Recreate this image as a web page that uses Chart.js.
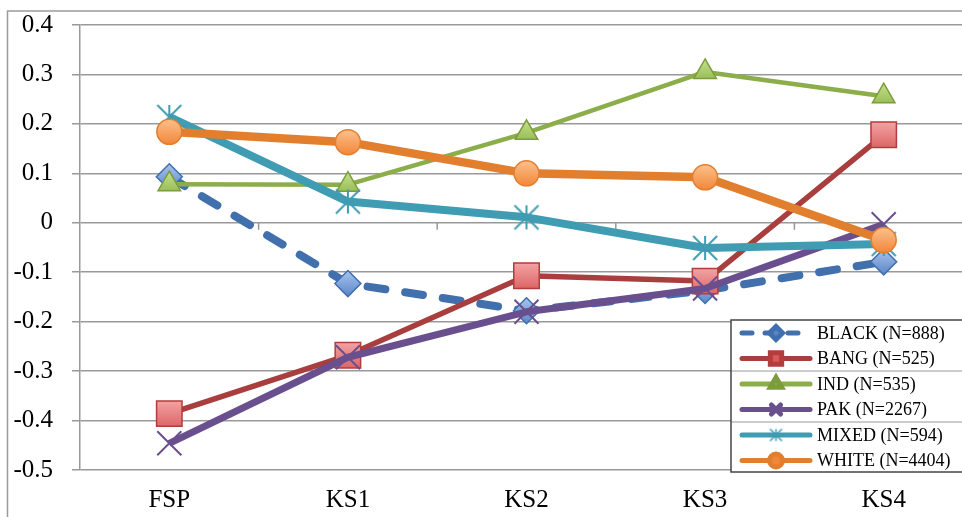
<!DOCTYPE html>
<html>
<head>
<meta charset="utf-8">
<script src="https://cdn.jsdelivr.net/npm/chart.js@4.4.1/dist/chart.umd.min.js"></script>
<style>
  html, body { margin: 0; padding: 0; background: #fff; overflow: hidden; }
  #wrap { position: relative; width: 1000px; height: 517px; }
</style>
</head>
<body>
<div id="wrap"><canvas id="chart" width="1000" height="517"></canvas></div>
<script>
// ── Data ──────────────────────────────────────────────────────────────────────
const STAGES = ['FSP', 'KS1', 'KS2', 'KS3', 'KS4'];
const BLACK  = [0.093, -0.123, -0.178, -0.137, -0.079];
const BANG   = [-0.386, -0.268, -0.107, -0.118, 0.178];
const IND    = [0.078, 0.077, 0.182, 0.305, 0.256];
const PAK    = [-0.446, -0.272, -0.180, -0.133, -0.003];
const MIXED  = [0.214, 0.043, 0.011, -0.051, -0.043];
const WHITE  = [0.184, 0.163, 0.100, 0.092, -0.035];
const GROUPS = ['BLACK', 'BANG', 'IND', 'PAK', 'MIXED', 'WHITE'];
const SIZES  = [888, 525, 535, 2267, 594, 4404];
const Y_MIN = -0.5, Y_MAX = 0.4, Y_STEP = 0.1;

const SERIF = '"Liberation Serif", "DejaVu Serif", serif';
const GRID  = '#999999';

// asterisk marker: an X plus a vertical bar, no horizontal arm
function asterisk(half, color, lw) {
  const cv = document.createElement('canvas');
  const n = Math.ceil(half * 2 + lw * 2);
  cv.width = cv.height = n;
  const c = cv.getContext('2d'), m = n / 2;
  c.strokeStyle = color;
  c.lineWidth = lw;
  c.beginPath();
  c.moveTo(m, m - half); c.lineTo(m, m + half);
  c.moveTo(m - half, m - half); c.lineTo(m + half, m + half);
  c.moveTo(m + half, m - half); c.lineTo(m - half, m + half);
  c.stroke();
  return cv;
}

// line colour, marker fill (top/bottom), marker edge, line width, marker style, marker radius
const STYLE = [
  { line:'#4170ad', fill:['#a9c4ee', '#5b86c8'], edge:'#3f6fae', width:8,   point:'rectRot',  r:13, dash:[18, 20] },
  { line:'#a83f3e', fill:['#f6b0b0', '#d9595a'], edge:'#b23d3c', width:5.5, point:'rect',     r:18 },
  { line:'#8bad4a', fill:['#c4e08e', '#8cb446'], edge:'#7c9b3c', width:4.5, point:'triangle', r:13 },
  { line:'#6a4f8e', fill:['#6a4f8e', '#6a4f8e'], edge:'#6a4f8e', width:7,   point:'crossRot', r:17 },
  { line:'#3f9cb2', fill:['#3f9cb2', '#3f9cb2'], edge:'#3f9cb2', width:8,   point:asterisk(12, '#3f9cb2', 2), r:13,
    mini: asterisk(6, '#3f9cb2', 1.5) },
  { line:'#e27f2f', fill:['#fcc08c', '#f2873a'], edge:'#e27f2f', width:8.5, point:'circle',   r:12.5 },
];
const SERIES = [BLACK, BANG, IND, PAK, MIXED, WHITE];

// vertical shading on each marker, built from the point's own pixel position
const markerFill = s => ctx => {
  const ch = ctx.chart, ys = ch.scales && ch.scales.y;
  if (!ys || !ctx.parsed || s.fill[0] === s.fill[1]) return s.fill[1];
  const py = ys.getPixelForValue(ctx.parsed.y);
  if (!Number.isFinite(py)) return s.fill[1];
  const g = ch.ctx.createLinearGradient(0, py - s.r, 0, py + s.r);
  g.addColorStop(0, s.fill[0]);
  g.addColorStop(1, s.fill[1]);
  return g;
};

const datasets = SERIES.map((data, i) => {
  const s = STYLE[i];
  return {
    label: `${GROUPS[i]} (N=${SIZES[i]})`,
    data,
    borderColor: s.line,
    borderWidth: s.width,
    borderDash: s.dash || [],
    borderCapStyle: s.dash ? 'round' : 'butt',
    borderJoinStyle: 'round',
    tension: 0,
    pointStyle: s.point,
    pointRadius: s.r,
    pointBackgroundColor: markerFill(s),
    pointBorderColor: s.edge,
    pointBorderWidth: s.point === 'crossRot' ? 2 : 1.5,
    order: SERIES.length - i,   // later series drawn on top
  };
});

// ── Plugins ───────────────────────────────────────────────────────────────────
const frame = {
  id: 'frame',
  beforeDraw(chart) {
    const c = chart.ctx;
    c.save();
    c.strokeStyle = '#9a9a9a';
    c.lineWidth = 1.5;
    c.strokeRect(7.5, 11, 2000, 1000);
    c.restore();
  }
};

// small tick marks on the zero line between categories
const zeroTicks = {
  id: 'zeroTicks',
  beforeDatasetsDraw(chart) {
    const { ctx: c, scales: { x, y } } = chart;
    const y0 = y.getPixelForValue(0);
    c.save();
    c.strokeStyle = GRID;
    c.lineWidth = 1.5;
    for (let i = 1; i < STAGES.length; i++) {
      const xp = (x.getPixelForValue(i - 1) + x.getPixelForValue(i)) / 2;
      c.beginPath();
      c.moveTo(xp, y0);
      c.lineTo(xp, y0 + 7);
      c.stroke();
    }
    c.restore();
  }
};

const boxLegend = {
  id: 'boxLegend',
  afterDraw(chart) {
    const c = chart.ctx;
    const left = 731, top = 320, bottom = 472, rowH = 25.5;
    c.save();
    c.fillStyle = '#fff';
    c.fillRect(left, top, 400, bottom - top);
    c.strokeStyle = '#9a9a9a';
    c.lineWidth = 1.2;
    [371, 422].forEach(yy => {
      c.beginPath(); c.moveTo(left, yy); c.lineTo(left + 400, yy); c.stroke();
    });
    c.strokeStyle = '#444';
    c.lineWidth = 1.5;
    c.strokeRect(left, top, 400, bottom - top);

    chart.data.datasets.forEach((ds, i) => {
      const s = STYLE[i];
      const yy = top + 13 + i * rowH;
      c.strokeStyle = s.line;
      c.lineWidth = 5;
      c.lineCap = 'round';
      c.setLineDash(s.dash ? [10, 13] : []);
      c.beginPath(); c.moveTo(742, yy); c.lineTo(810, yy); c.stroke();
      c.setLineDash([]);
      c.fillStyle = s.fill[1];
      c.strokeStyle = s.edge;
      Chart.helpers.drawPoint(c, {
        pointStyle: s.mini || s.point, radius: s.point === 'rect' ? 8 : 6.5,
        borderWidth: s.point === 'crossRot' ? 1.5 : 1, rotation: 0
      }, 776, yy);
      c.fillStyle = '#000';
      c.font = `18px ${SERIF}`;
      c.textBaseline = 'middle';
      c.textAlign = 'left';
      c.fillText(ds.label, 817, yy + 1);
    });
    c.restore();
  }
};

// ── Chart ─────────────────────────────────────────────────────────────────────
new Chart(document.getElementById('chart').getContext('2d'), {
  type: 'line',
  data: { labels: STAGES, datasets },
  plugins: [frame, zeroTicks, boxLegend],
  options: {
    responsive: false,
    animation: false,
    events: [],
    layout: { padding: { top: 25, right: 27, left: 0, bottom: 0 } },
    plugins: { legend: { display: false }, tooltip: { enabled: false } },
    scales: {
      x: {
        offset: true,
        grid: { display: false, drawTicks: false },
        border: { display: false },
        ticks: { font: { family: SERIF, size: 25 }, color: '#000', padding: 15 },
        afterFit: s => { s.height = 47; }
      },
      y: {
        min: Y_MIN, max: Y_MAX,
        ticks: {
          stepSize: Y_STEP,
          font: { family: SERIF, size: 25 }, color: '#000', padding: 19,
          callback: v => Math.abs(v) < 1e-9 ? '0' : v.toFixed(1)
        },
        grid: { color: GRID, lineWidth: 1.5, tickLength: 8 },
        border: { display: true, color: GRID, width: 1.5 },
        afterFit: s => { s.width = 80; s.paddingTop = 0; s.paddingBottom = 0; }
      }
    }
  }
});
</script>
</body>
</html>
